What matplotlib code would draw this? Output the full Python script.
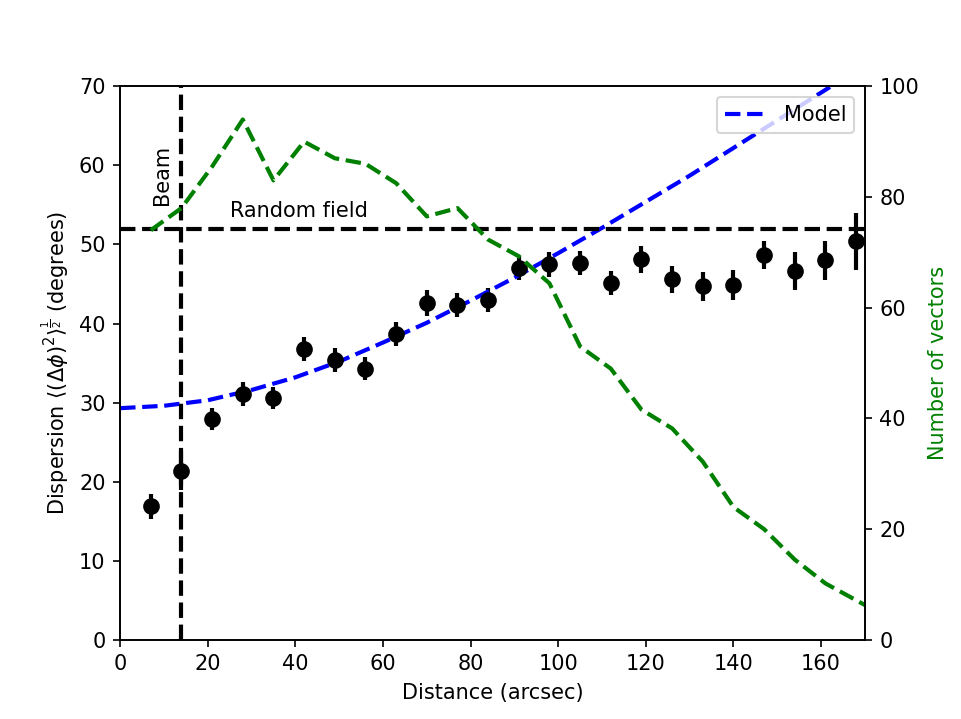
import numpy as np
import matplotlib
matplotlib.use("Agg")
import matplotlib.pyplot as plt

# binned dispersion measurements
dist = [7, 14, 21, 28, 35, 42, 49, 56, 63, 70, 77, 84,
        91, 98, 105, 112, 119, 126, 133, 140, 147, 154, 161, 168]
disp = [16.9, 21.4, 27.9, 31.1, 30.6, 36.8, 35.4, 34.3, 38.7, 42.6, 42.3, 43.0,
        47.0, 47.5, 47.7, 45.1, 48.1, 45.6, 44.7, 44.9, 48.7, 46.7, 48.0, 50.4]
disp_err = [1.6, 2.5, 1.4, 1.5, 1.4, 1.5, 1.5, 1.5, 1.5, 1.6, 1.5, 1.5,
            1.5, 1.6, 1.5, 1.5, 1.7, 1.7, 1.8, 1.9, 1.8, 2.4, 2.5, 3.6]

# fitted model curve
model_x = [0, 10, 20, 30, 40, 50, 60, 70, 80, 90,
           100, 110, 120, 130, 140, 150, 160, 170]
model_y = [29.3, 29.6, 30.3, 31.6, 33.2, 35.2, 37.6, 40.1, 42.9, 45.8,
           48.9, 52.1, 55.4, 58.7, 62.2, 65.7, 69.2, 72.7]

# number of vectors per bin
nvec_x = [7, 14, 21, 28, 35, 42, 49, 56, 63, 70, 77, 84,
          91, 98, 105, 112, 119, 126, 133, 140, 147, 154, 161, 170]
nvec = [74, 78, 85.5, 94, 83, 90, 87, 86, 82.5, 76.5, 78, 72.3,
        69.3, 64.4, 53, 49, 41.6, 38.2, 32.2, 24, 20, 14.5, 10.2, 6.3]

beam = 14
random_field = 52

fig, ax = plt.subplots(figsize=(961 / 150, 719 / 150), dpi=150)

ax.errorbar(dist, disp, yerr=disp_err, fmt='ko', ms=7, elinewidth=2)
ax.plot(model_x, model_y, 'b--', lw=2, label='Model')
ax.axvline(beam, color='k', ls='--', lw=2)
ax.axhline(random_field, color='k', ls='--', lw=2)
ax.text(9.5, 55, 'Beam', rotation=90, ha='center', va='bottom')
ax.text(25, 53, 'Random field', ha='left', va='bottom')

ax.set_xlim(0, 170)
ax.set_ylim(0, 70)
ax.set_xlabel('Distance (arcsec)')
ax.set_ylabel(r'Dispersion $\langle(\Delta\phi)^2\rangle^{\frac{1}{2}}$ (degrees)')
ax.legend(loc='upper right')

ax2 = ax.twinx()
ax2.plot(nvec_x, nvec, color='g', ls='--', lw=2)
ax2.set_ylim(0, 100)
ax2.set_ylabel('Number of vectors', color='g')

plt.savefig('out.png', dpi=150)
